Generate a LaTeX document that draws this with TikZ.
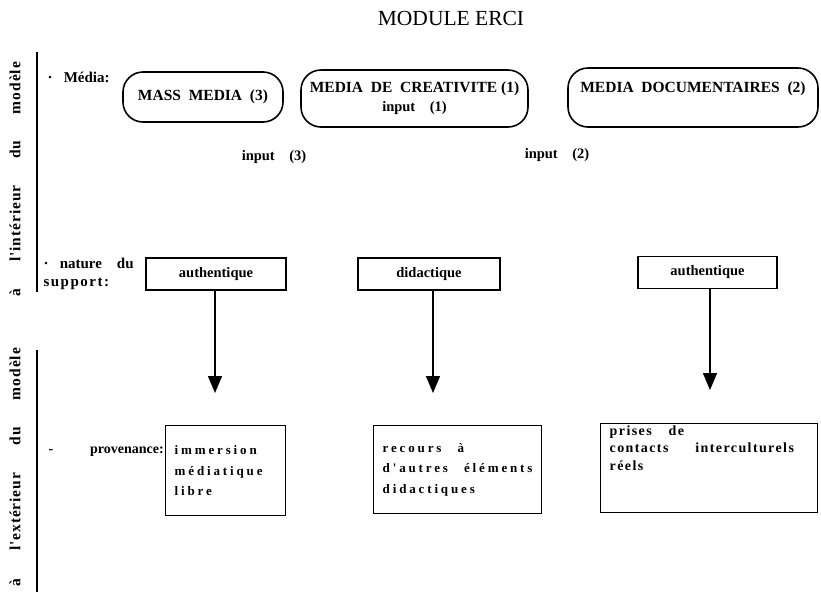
\documentclass[tikz,border=0pt]{standalone}
\usepackage{fontspec}
\setmainfont{Liberation Serif}
\newfontfamily\spaced[LetterSpace=22]{Liberation Serif}
\newfontfamily\looser[LetterSpace=10]{Liberation Serif}
\newfontfamily\sidefont[LetterSpace=6]{Liberation Serif}
\usetikzlibrary{arrows.meta}

\tikzset{
  media/.style={draw, line width=1.6pt, rounded corners=20pt, align=center,
    font=\bfseries\fontsize{15.5}{17}\selectfont},
  support/.style={draw, line width=1.4pt, minimum height=32pt,
    font=\bfseries\fontsize{14.5}{16}\selectfont},
  source/.style={draw, line width=1.4pt, anchor=north west, inner xsep=9pt,
    inner ysep=0pt, font=\spaced\bfseries\fontsize{13}{20.5}\selectfont},
  lab/.style={anchor=west, align=left, font=\bfseries\fontsize{15}{18}\selectfont},
  inp/.style={font=\bfseries\fontsize{14.5}{16}\selectfont},
  side/.style={rotate=90, font=\sidefont\bfseries\fontsize{15.5}{17}\selectfont},
  down/.style={line width=1.4pt, -{Triangle[length=17pt,width=14pt]}},
  rule/.style={line width=2.2pt},
}

\begin{document}
\begin{tikzpicture}[x=1pt, y=-1pt]
    \useasboundingbox (0,0) rectangle (821,592);

    \node[font=\fontsize{21.5}{24}\selectfont] (title) at (451,18) {MODULE ERCI};

    % inside / outside
    \coordinate (in top) at (37,52);
    \coordinate (in bot) at (37,292);
    \coordinate (out top) at (37,350);
    \coordinate (out bot) at (37,592);
    \draw[rule] (in top) -- (in bot);
    \draw[rule] (out top) -- (out bot);
    \node[side] (inside) at (15,179)
    {\makebox[234pt]{à\hfill l'intérieur\hfill du\hfill modèle}};
    \node[side] (outside) at (15,467)
    {\makebox[238pt]{à\hfill l'extérieur\hfill du\hfill modèle}};

    % media row
    \node[lab] (media) at (44,77) {·~~ Média:};
    \node[media, minimum width=160pt, minimum height=50pt] (mass) at (203,97)
    {MASS~ MEDIA~ (3)};
    \node[media, minimum width=227pt, minimum height=57pt] (creat) at (414.5,98.5)
    {\raisebox{3pt}{MEDIA~ DE~ CREATIVITE (1)}\\[-1pt]{\fontsize{14.5}{16}\selectfont input~~~ (1)}};
    \node[media, minimum width=250pt, minimum height=59pt] (docu) at (693,97.5)
    {MEDIA~ DOCUMENTAIRES~ (2)\\[-1pt]\strut};
    \node[inp] (in3) at (274,157) {input~~~ (3)};
    \node[inp] (in2) at (557,155) {input~~~ (2)};

    % support row
    \node[lab] (nature) at (40,274) {·~~ nature~~~ du\\{\looser support:}};
    \node[support, minimum width=140pt] (auth1) at (216,274) {authentique};
    \node[support, minimum width=142pt] (dida) at (429,274) {didactique};
    \node[support, minimum width=139pt] (auth3) at (707.5,272.5) {authentique};

    \coordinate (tip1) at (215,393);
    \coordinate (tip2) at (433,393);
    \coordinate (tip3) at (710,390);
    \draw[down] (auth1.south -| tip1) -- (tip1);
    \draw[down] (dida.south -| tip2) -- (tip2);
    \draw[down] (auth3.south -| tip3) -- (tip3);

    % provenance row
    \node[lab, font=\bfseries\fontsize{14}{16}\selectfont] (prov) at (45,452)
    {-\hspace{37pt}provenance:};
    \node[source] (immer) at (165,425)
    {\parbox[c][90pt][c]{102pt}{immersion\\médiatique\\libre}};
    \node[source] (recours) at (373,425)
    {\parbox[c][88pt][c]{150pt}{recours\hspace{10pt} à\\d'autres\hspace{10pt} éléments\\didactiques}};
    \node[source, font=\looser\bfseries\fontsize{14}{17.5}\selectfont] (prises) at (600,423)
    {\parbox[c][89pt][t]{199pt}{\vspace{2pt}prises\hspace{12pt} de\\contacts\hspace{22pt} interculturels\\réels}};
\end{tikzpicture}
\end{document}
